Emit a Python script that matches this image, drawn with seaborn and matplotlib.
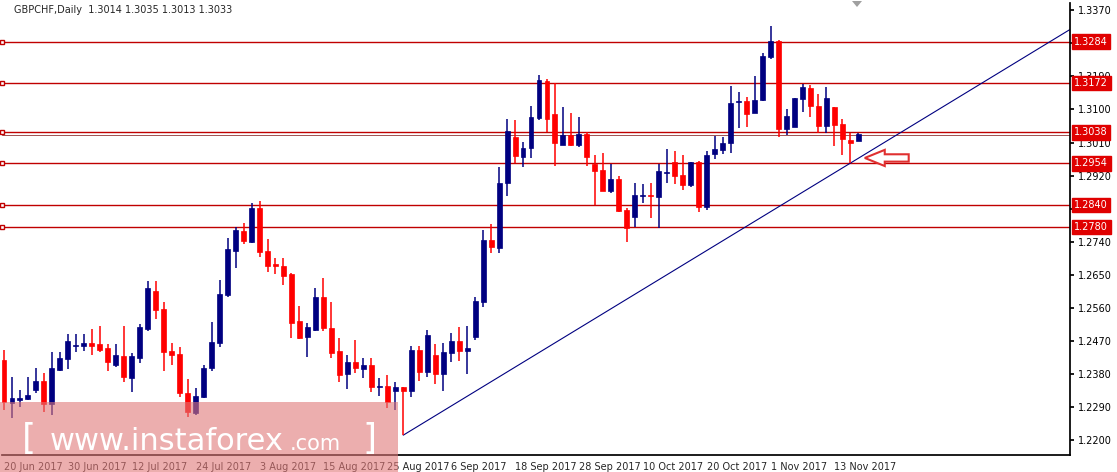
import matplotlib
matplotlib.use("Agg")
import matplotlib.pyplot as plt
import matplotlib.transforms as mtransforms
from matplotlib.patches import Rectangle, Polygon
import numpy as np
import pandas as pd
import seaborn as sns

opens = [1.2418,1.2301,1.2309,1.2311,1.2336,1.2361,1.2298,1.2390,1.2420,1.2456,1.2456,1.2464,1.2461,1.2450,1.2404,1.2429,1.2369,1.2423,1.2502,1.2606,
         1.2557,1.2442,1.2434,1.2328,1.2273,1.2317,1.2396,1.2464,1.2595,1.2715,1.2769,1.2739,1.2832,1.2715,1.2679,1.2674,1.2652,1.2524,1.2480,1.2499,
         1.2589,1.2505,1.2442,1.2380,1.2412,1.2393,1.2404,1.2344,1.2347,1.2333,1.2344,1.2333,1.2445,1.2385,1.2431,1.2380,1.2437,1.2469,1.2442,1.2480,
         1.2576,1.2745,1.2723,1.2900,1.3025,1.2971,1.2995,1.3077,1.3178,1.3088,1.3003,1.3031,1.3003,1.3033,1.2952,1.2935,1.2878,1.2911,1.2826,1.2807,
         1.2864,1.2867,1.2862,1.2927,1.2957,1.2922,1.2894,1.2957,1.2834,1.2979,1.2990,1.3009,1.3120,1.3123,1.3091,1.3126,1.3243,1.3287,1.3047,1.3052,
         1.3129,1.3159,1.3110,1.3055,1.3107,1.3061,1.3017,1.3014]
highs = [1.2445,1.2371,1.2336,1.2371,1.2396,1.2382,1.2440,1.2440,1.2489,1.2489,1.2489,1.2502,1.2510,1.2461,1.2461,1.2510,1.2437,1.2516,1.2633,1.2633,
         1.2576,1.2464,1.2453,1.2366,1.2341,1.2404,1.2521,1.2636,1.2750,1.2780,1.2791,1.2845,1.2851,1.2747,1.2696,1.2696,1.2655,1.2565,1.2518,1.2614,
         1.2641,1.2576,1.2478,1.2431,1.2472,1.2423,1.2423,1.2369,1.2377,1.2358,1.2344,1.2456,1.2456,1.2499,1.2461,1.2464,1.2491,1.2508,1.2510,1.2589,
         1.2772,1.2788,1.2943,1.3074,1.3071,1.3012,1.3110,1.3194,1.3183,1.3172,1.3107,1.3091,1.3080,1.3039,1.2976,1.2982,1.2952,1.2919,1.2832,1.2900,
         1.2897,1.2900,1.2952,1.2992,1.2987,1.2976,1.2957,1.2960,1.2987,1.3028,1.3025,1.3164,1.3148,1.3134,1.3191,1.3254,1.3328,1.3289,1.3101,1.3131,
         1.3170,1.3167,1.3142,1.3161,1.3107,1.3074,1.3036,1.3035]
lows = [1.2282,1.2260,1.2290,1.2309,1.2328,1.2276,1.2268,1.2388,1.2393,1.2440,1.2442,1.2431,1.2440,1.2388,1.2399,1.2358,1.2331,1.2410,1.2497,1.2529,
        1.2388,1.2404,1.2317,1.2262,1.2268,1.2314,1.2388,1.2453,1.2589,1.2668,1.2734,1.2736,1.2698,1.2657,1.2652,1.2622,1.2478,1.2475,1.2426,1.2497,
        1.2497,1.2423,1.2358,1.2339,1.2382,1.2369,1.2331,1.2320,1.2287,1.2282,1.2213,1.2317,1.2361,1.2371,1.2352,1.2333,1.2412,1.2415,1.2380,1.2472,
        1.2562,1.2709,1.2709,1.2864,1.2954,1.2943,1.2968,1.3071,1.3039,1.2946,1.3003,1.3001,1.2998,1.2946,1.2840,1.2878,1.2873,1.2821,1.2739,1.2780,
        1.2845,1.2805,1.2777,1.2900,1.2897,1.2881,1.2889,1.2821,1.2826,1.2965,1.2979,1.2982,1.3050,1.3052,1.3091,1.3123,1.3238,1.3025,1.3031,1.3052,
        1.3093,1.3080,1.3036,1.3036,1.3001,1.2976,1.2954,1.3013]
closes = [1.2303,1.2314,1.2314,1.2322,1.2361,1.2298,1.2396,1.2423,1.2469,1.2459,1.2464,1.2456,1.2445,1.2412,1.2431,1.2371,1.2429,1.2508,1.2614,1.2554,
          1.2440,1.2431,1.2328,1.2276,1.2320,1.2396,1.2467,1.2597,1.2720,1.2772,1.2742,1.2832,1.2712,1.2674,1.2674,1.2647,1.2518,1.2478,1.2508,1.2589,
          1.2505,1.2437,1.2377,1.2412,1.2396,1.2404,1.2344,1.2347,1.2303,1.2344,1.2333,1.2445,1.2385,1.2486,1.2380,1.2440,1.2469,1.2442,1.2450,1.2578,
          1.2745,1.2726,1.2900,1.3042,1.2973,1.2995,1.3080,1.3180,1.3074,1.3009,1.3031,1.3003,1.3033,1.2971,1.2933,1.2878,1.2911,1.2824,1.2777,1.2867,
          1.2867,1.2864,1.2933,1.2930,1.2919,1.2894,1.2957,1.2834,1.2976,1.2992,1.3009,1.3118,1.3123,1.3088,1.3126,1.3246,1.3287,1.3047,1.3082,1.3131,
          1.3161,1.3110,1.3055,1.3131,1.3058,1.3020,1.3009,1.3033]
date_labels = ["20 Jun 2017","30 Jun 2017","12 Jul 2017","24 Jul 2017","3 Aug 2017","15 Aug 2017","25 Aug 2017",
               "6 Sep 2017","18 Sep 2017","28 Sep 2017","10 Oct 2017","20 Oct 2017","1 Nov 2017","13 Nov 2017"]
price_ticks = [1.3370,1.3280,1.3190,1.3100,1.3010,1.2920,1.2830,1.2740,1.2650,1.2560,1.2470,1.2380,1.2290,1.2200]
hidden_ticks = [1.3280,1.2830]
levels = [1.3284,1.3172,1.3038,1.2954,1.2840,1.2780]
trend_pts = [(50,1.2213),(106,1.2954)]

sns.set_theme(style="white")
plt.rcParams['font.family'] = ['DejaVu Sans']

df = pd.DataFrame({"o":opens,"h":highs,"l":lows,"c":closes})
df["i"] = np.arange(len(df))
up = df.c >= df.o
BLUE = "#000080"; RED = "#ff0000"; LRED = "#c00000"

fig = plt.figure(figsize=(11.17,4.72), dpi=100)
ax = fig.add_axes([2/1117, 17/472, 1068/1117, 452/472])
ax.set_xlim(-0.25, 133.5)
ax.set_ylim(1.2159, 1.3390)

for lv in levels:
    ax.axhline(lv, color=LRED, lw=1.0, zorder=1)
ax.axhline(1.3030, color="#a05050", lw=0.7, zorder=1)

cols = np.where(up, BLUE, RED)
ax.vlines(df.i, df.l, df.h, colors=cols, lw=1.1, zorder=3)
bottoms = np.minimum(df.o, df.c)
heights = np.maximum(np.abs(df.c-df.o), 0.00012)
ax.bar(df.i, heights, bottom=bottoms, width=0.62, color=cols, edgecolor=cols, lw=0.5, zorder=4)

(x0,y0),(x1,y1) = trend_pts
slope = (y1-y0)/(x1-x0)
xe = 140
ax.plot([x0,xe],[y0,y0+slope*(xe-x0)], color="#000080", lw=0.8, zorder=2)

arr = Polygon([[107.8,1.2968],[110.3,1.2990],[110.3,1.2978],[113.3,1.2978],[113.3,1.2958],[110.3,1.2958],[110.3,1.2946]],
              closed=True, facecolor="white", edgecolor="#e03030", lw=1.5, zorder=5)
ax.add_patch(arr)

for s in ["top","left"]:
    ax.spines[s].set_visible(False)
ax.spines["right"].set_color("black"); ax.spines["bottom"].set_color("black")
ax.yaxis.tick_right()
ax.set_yticks(price_ticks)
ax.set_yticklabels(["" if p in hidden_ticks else f"{p:.4f}" for p in price_ticks], fontsize=7)
ax.tick_params(axis="y", length=3, pad=3, colors="black", direction="out")
ax.set_xticks(np.arange(0, 8*len(date_labels), 8))
ax.set_xticklabels(date_labels, fontsize=7, ha="left")
ax.tick_params(axis="x", length=3, pad=2, direction="out")
ax.grid(False)

trans = mtransforms.blended_transform_factory(ax.transAxes, ax.transData)
for lv in levels:
    ax.text(1.004, lv, f"{lv:.4f}", transform=trans, fontsize=7, color="white", va="center", ha="left",
            bbox=dict(boxstyle="square,pad=0.25", fc="#e00000", ec="#e00000"), zorder=10, clip_on=False)
    ax.plot([0.0],[lv], marker="s", ms=3.5, mfc="white", mec=LRED, transform=trans, clip_on=False, zorder=6)

fig.text(14/1117, 1-10/472, "GBPCHF,Daily  1.3014 1.3035 1.3013 1.3033", fontsize=7, va="center", ha="left")
fig.patches.append(Polygon([[852/1117,1-1/472],[862/1117,1-1/472],[857/1117,1-7/472]], closed=True,
                           transform=fig.transFigure, fc="#a0a0a0", ec="none"))

fig.patches.append(Rectangle((0, 0), 398/1117, 70/472, transform=fig.transFigure, fc="#e07878", alpha=0.6, ec="none", zorder=20))
fig.text(22/1117, 33/472, "[", fontsize=26, color="white", va="center", ha="left", zorder=21)
fig.text(50/1117, 30/472, "www.instaforex", fontsize=22, color="white", va="center", ha="left", zorder=21)
fig.text(290/1117, 28/472, ".com", fontsize=15, color="white", va="center", ha="left", zorder=21)
fig.text(362/1117, 33/472, "]", fontsize=26, color="white", va="center", ha="left", zorder=21)

fig.savefig("out.png", dpi=100)
